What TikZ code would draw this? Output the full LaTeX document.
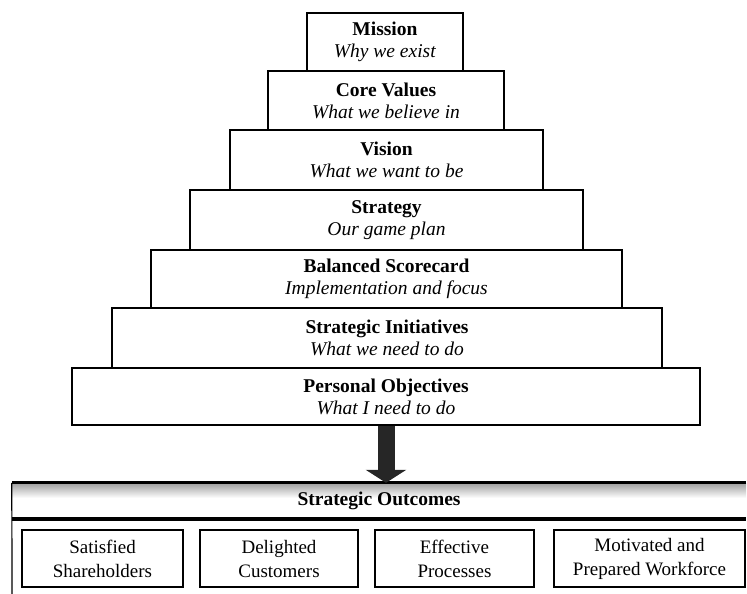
\documentclass[tikz,border=0pt]{standalone}
\usepackage{fontspec}
\setmainfont{Liberation Serif}
\usetikzlibrary{arrows.meta}
\tikzset{
  lvl/.style={draw=black, line width=1.2pt, fill=white, inner sep=0pt, align=center,
    font=\fontsize{19.5}{22}\selectfont},
  outbox/.style={draw=black, line width=1.5pt, inner sep=0pt, align=center,
    font=\fontsize{19}{24}\selectfont},
  bigarrow/.style={line width=17pt, draw=black!85, -{Triangle[width=40pt,length=13pt]}, shorten >=0pt},
}
\begin{document}
\begin{tikzpicture}[x=1pt,y=-1pt]
\useasboundingbox (0,0) rectangle (747,594);
% pyramid levels (bottom first so upper borders are on top)
\node[lvl, minimum width=628pt, minimum height=57pt] (po) at (386,396.5)
  {\textbf{Personal Objectives}\\\textit{What I need to do}};
\node[lvl, minimum width=550pt, minimum height=60pt] (si) at (387,338)
  {\textbf{Strategic Initiatives}\\\textit{What we need to do}};
\node[lvl, minimum width=471pt, minimum height=58pt] (bsc) at (386.5,279)
  {\textbf{Balanced Scorecard}\\\textit{Implementation and focus}};
\node[lvl, minimum width=393pt, minimum height=60pt] (str) at (386.5,220)
  {\textbf{Strategy}\\\textit{Our game plan}};
\node[lvl, minimum width=313pt, minimum height=60pt] (vis) at (386.5,160)
  {\textbf{Vision}\\\textit{What we want to be}};
\node[lvl, minimum width=236pt, minimum height=59pt] (cv) at (386,100.5)
  {\textbf{Core Values}\\\textit{What we believe in}};
\node[lvl, minimum width=156pt, minimum height=58pt] (mis) at (385,42)
  {\textbf{Mission}\\\textit{Why we exist}};
% strategic outcomes band
\shade[top color=gray!75, bottom color=white] (12,483) rectangle (746,498);
\node[inner sep=0pt, minimum width=734pt, minimum height=36pt,
  font=\fontsize{19.5}{22}\selectfont] (band) at (379,501) {\textbf{Strategic Outcomes}};
\draw[line width=3pt] (band.north west) -- (band.north east);
\draw[line width=4pt] (band.south west) -- (band.south east);
\draw[line width=1.2pt] (band.north west) -- (12,594);
% outcome boxes
\node[outbox, minimum width=161pt, minimum height=57pt] (sat) at (102.5,558.5) {Satisfied\\Shareholders};
\node[outbox, minimum width=158pt, minimum height=57pt] (del) at (279,558.5) {Delighted\\Customers};
\node[outbox, minimum width=159pt, minimum height=57pt] (eff) at (454.5,558.5) {Effective\\Processes};
\node[outbox, minimum width=191pt, minimum height=57pt] (mot) at (649.5,558.5) {Motivated and\\Prepared Workforce};
% arrow
\draw[bigarrow] (po.south) -- (po.south |- band.north);
\end{tikzpicture}
\end{document}
